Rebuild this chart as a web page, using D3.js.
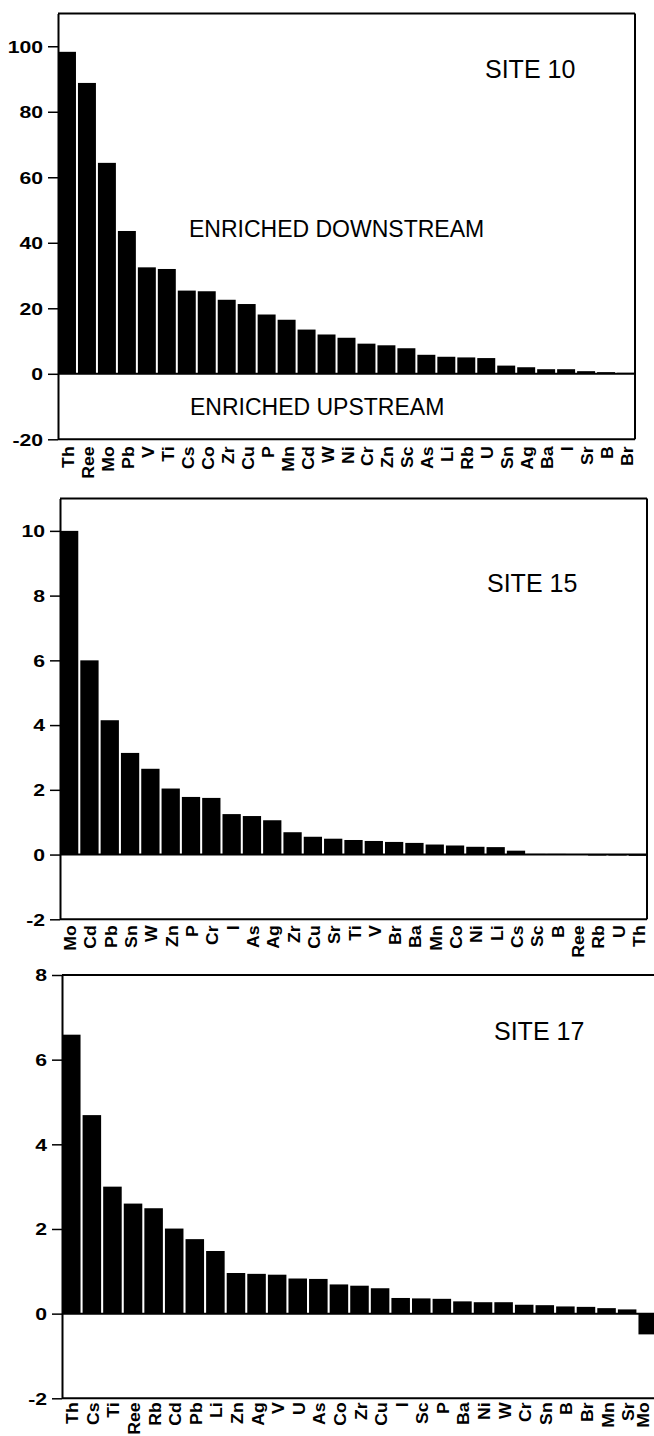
<!DOCTYPE html>
<html>
<head>
<meta charset="utf-8">
<script src="https://cdn.jsdelivr.net/npm/d3@7"></script>
<style>
  body { margin: 0; background: #fff; }
  svg { display: block; font-family: "Liberation Sans", Arial, Helvetica, sans-serif; }
</style>
</head>
<body>
<svg id="chart" width="654" height="1436"></svg>
<script>
// site 10
const site10Elements = ["Th", "Ree", "Mo", "Pb", "V", "Ti", "Cs", "Co", "Zr", "Cu", "P", "Mn", "Cd", "W", "Ni",
  "Cr", "Zn", "Sc", "As", "Li", "Rb", "U", "Sn", "Ag", "Ba", "I", "Sr", "B", "Br"];
const site10Values = [98.3, 88.8, 64.4, 43.6, 32.5, 32, 25.4, 25.2, 22.6, 21.3, 18.1, 16.5, 13.5, 12, 11,
  9.2, 8.7, 7.8, 5.8, 5.2, 5.0, 4.8, 2.5, 2.0, 1.4, 1.4, 0.8, 0.5, 0.3];
const site10Ticks = [-20, 0, 20, 40, 60, 80, 100];

// site 15
const site15Elements = ["Mo", "Cd", "Pb", "Sn", "W", "Zn", "P", "Cr", "I", "As", "Ag", "Zr", "Cu", "Sr", "Ti",
  "V", "Br", "Ba", "Mn", "Co", "Ni", "Li", "Cs", "Sc", "B", "Ree", "Rb", "U", "Th"];
const site15Values = [10.0, 6.0, 4.15, 3.14, 2.65, 2.04, 1.78, 1.75, 1.25, 1.19, 1.06, 0.69, 0.55, 0.49, 0.45,
  0.42, 0.39, 0.36, 0.31, 0.28, 0.24, 0.23, 0.12, 0.02, 0.02, 0.01, -0.03, -0.03, -0.04];
const site15Ticks = [-2, 0, 2, 4, 6, 8, 10];

// site 17
const site17Elements = ["Th", "Cs", "Ti", "Ree", "Rb", "Cd", "Pb", "Li", "Zn", "Ag", "V", "U", "As", "Co", "Zr",
  "Cu", "I", "Sc", "P", "Ba", "Ni", "W", "Cr", "Sn", "B", "Br", "Mn", "Sr", "Mo"];
const site17Values = [6.59, 4.69, 3.0, 2.6, 2.49, 2.01, 1.76, 1.48, 0.96, 0.94, 0.92, 0.83, 0.82, 0.69, 0.66,
  0.6, 0.37, 0.36, 0.35, 0.29, 0.27, 0.27, 0.21, 0.2, 0.17, 0.16, 0.13, 0.1, -0.49];
const site17Ticks = [-2, 0, 2, 4, 6, 8];

const panels = [
  {
    name: "SITE 10", elements: site10Elements, values: site10Values, ticks: site10Ticks,
    domain: [-20, 110], left: 58, right: 635, top: 13.5, bottom: 439.3, rightBorder: true, labelGap: 7,
    title: { x: 485, y: 78 },
    notes: [
      { text: "ENRICHED DOWNSTREAM", x: 189, y: 237 },
      { text: "ENRICHED UPSTREAM", x: 190, y: 415 }
    ]
  },
  {
    name: "SITE 15", elements: site15Elements, values: site15Values, ticks: site15Ticks,
    domain: [-2, 11], left: 60, right: 647, top: 498.5, bottom: 919.3, rightBorder: true, labelGap: 6,
    title: { x: 487, y: 592 }, notes: []
  },
  {
    name: "SITE 17", elements: site17Elements, values: site17Values, ticks: site17Ticks,
    domain: [-2, 8], left: 62, right: 657, top: 975, bottom: 1398.3, rightBorder: false, labelGap: 4,
    title: { x: 494, y: 1040 }, notes: []
  }
];

const svg = d3.select("#chart");

svg.append("rect").attr("width", 654).attr("height", 1436).attr("fill", "#fff");

panels.forEach(drawPanel);

function drawPanel(p) {
  const g = svg.append("g");

  let x = d3.scaleBand()
    .domain(p.elements)
    .range([p.left, p.right])
    .paddingInner(0.1)
    .paddingOuter(0);

  let y = d3.scaleLinear()
    .domain(p.domain)
    .range([p.bottom, p.top]);

  // bars
  g.append("g")
    .selectAll("rect")
    .data(p.elements.map((e, i) => ({ el: e, v: p.values[i] })))
    .join("rect")
    .attr("x", (d) => x(d.el))
    .attr("y", (d) => y(Math.max(0, d.v)))
    .attr("width", x.bandwidth())
    .attr("height", (d) => Math.abs(y(d.v) - y(0)))
    .attr("fill", "#000");

  // frame
  const frame = g.append("g").attr("stroke", "#000").attr("stroke-width", 2).attr("fill", "none");
  frame.append("line").attr("x1", p.left).attr("x2", p.right).attr("y1", p.top).attr("y2", p.top);
  frame.append("line").attr("x1", p.left).attr("x2", p.right).attr("y1", p.bottom).attr("y2", p.bottom);
  frame.append("line").attr("x1", p.left).attr("x2", p.right).attr("y1", y(0)).attr("y2", y(0));
  if (p.rightBorder) {
    frame.append("line").attr("x1", p.right).attr("x2", p.right).attr("y1", p.top).attr("y2", p.bottom);
  }

  // y axis (plain hyphen for negatives, like the original)
  const axis = g.append("g")
    .attr("transform", `translate(${p.left},0)`)
    .call(d3.axisLeft(y).tickValues(p.ticks).tickSize(10).tickSizeOuter(0).tickFormat((d) => String(d)));
  axis.select(".domain").attr("stroke-width", 2);
  axis.selectAll(".tick line").attr("stroke-width", 1.5);
  axis.selectAll(".tick text")
    .attr("x", -11.5)
    .attr("dy", "0.36em")
    .attr("transform", "scale(1.3,1)")
    .attr("font-size", 16.3)
    .attr("font-weight", "bold")
    .attr("fill", "#000");
  axis.selectAll("path, line").attr("stroke", "#000");

  // element labels, kept inside the page on the right
  g.append("g")
    .selectAll("text")
    .data(p.elements)
    .join("text")
    .attr("transform", (d) => {
      let lx = Math.min(x(d) + x.bandwidth() / 2 + 7, 649);
      return `translate(${lx},${p.bottom + p.labelGap}) rotate(-90) scale(1.04,1)`;
    })
    .attr("text-anchor", "end")
    .attr("font-size", 17)
    .attr("font-weight", "bold")
    .text((d) => d);

  // title and notes
  g.append("text")
    .attr("x", p.title.x)
    .attr("y", p.title.y)
    .attr("font-size", 25)
    .text(p.name);

  p.notes.forEach((n) => {
    g.append("text")
      .attr("x", n.x)
      .attr("y", n.y)
      .attr("font-size", 23)
      .text(n.text);
  });
}
</script>
</body>
</html>
